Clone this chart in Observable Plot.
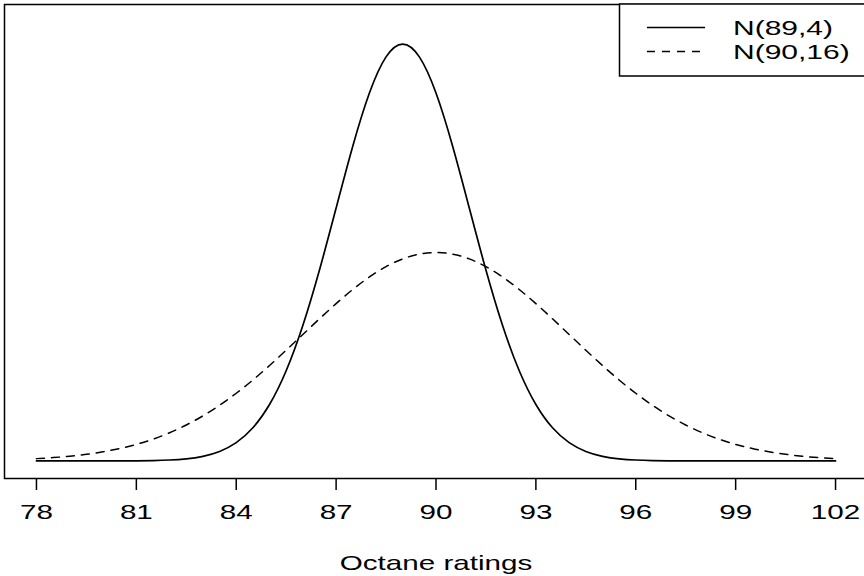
<!DOCTYPE html>
<html>
<head>
<meta charset="utf-8">
<script src="https://cdn.jsdelivr.net/npm/d3@7"></script>
<script src="https://cdn.jsdelivr.net/npm/@observablehq/plot@0.6"></script>
<style>
  html, body { margin: 0; padding: 0; background: #fff; overflow: hidden; }
  #wrap { position: relative; width: 864px; height: 576px; overflow: hidden; }
  #legend { position: absolute; left: 0; top: 0; pointer-events: none; }
</style>
</head>
<body>
<div id="wrap"></div>
<script>
// Octane rating grid (x) and density values read for the two curves
const octane = [78,78.5,79,79.5,80,80.5,81,81.5,82,82.5,83,83.5,84,84.5,85,85.5,86,86.5,87,87.5,88,88.5,89,
  89.5,90,90.5,91,91.5,92,92.5,93,93.5,94,94.5,95,95.5,96,96.5,97,97.5,98,98.5,99,99.5,100,100.5,101,101.5,102];
const densityN89 = [0.00000,0.00000,0.00000,0.00000,0.00001,0.00002,0.00007,0.00018,0.00044,0.00102,0.00222,0.00455,0.00876,0.01587,0.02700,0.04314,0.06476,0.09133,0.12099,0.15057,0.17603,0.19333,0.19947,
  0.19333,0.17603,0.15057,0.12099,0.09133,0.06476,0.04314,0.02700,0.01587,0.00876,0.00455,0.00222,0.00102,0.00044,0.00018,0.00007,0.00002,0.00001,0.00000,0.00000,0.00000,0.00000,0.00000,0.00000,0.00000,0.00000];
const densityN90 = [0.00111,0.00160,0.00227,0.00318,0.00438,0.00594,0.00794,0.01043,0.01350,0.01720,0.02157,0.02663,0.03238,0.03875,0.04566,0.05297,0.06049,0.06801,0.07528,0.08204,0.08802,0.09297,0.09667,
  0.09896,0.09974,0.09896,0.09667,0.09297,0.08802,0.08204,0.07528,0.06801,0.06049,0.05297,0.04566,0.03875,0.03238,0.02663,0.02157,0.01720,0.01350,0.01043,0.00794,0.00594,0.00438,0.00318,0.00227,0.00160,0.00111];
const xTicks = [78, 81, 84, 87, 90, 93, 96, 99, 102];
const seriesNames = ["N(89,4)", "N(90,16)"];
const xLabel = "Octane ratings";

const solid = octane.map((x, i) => ({x, y: densityN89[i]}));
const dashed = octane.map((x, i) => ({x, y: densityN90[i]}));

const FONT = "'Liberation Sans', Arial, Helvetica, sans-serif";

const chart = Plot.plot({
  width: 864,
  height: 576,
  marginLeft: 4,
  marginRight: -3,
  marginTop: 4,
  marginBottom: 98,
  style: {fontFamily: FONT, fontSize: "20px", background: "white", color: "black", overflow: "visible"},
  x: {domain: [77.04, 102.96]},
  y: {domain: [-0.0084, 0.2184], axis: null},
  marks: [
    Plot.line(dashed, {x: "x", y: "y", curve: "natural", stroke: "black", strokeWidth: 1.5, strokeDasharray: "8,7"}),
    Plot.line(solid, {x: "x", y: "y", curve: "natural", stroke: "black", strokeWidth: 1.7}),
    Plot.frame({stroke: "black", strokeWidth: 1.5}),
    Plot.axisX({
      ticks: xTicks,
      tickSize: 12,
      tickPadding: 14,
      tickFormat: d => String(d),
      fontSize: 20,
      strokeWidth: 1.5,
      label: xLabel,
      labelAnchor: "center",
      labelOffset: 91,
      labelArrow: "none"
    })
  ]
});

document.getElementById("wrap").appendChild(chart);

// Stretch text horizontally to match the reference's wide glyphs
chart.querySelectorAll("text").forEach(t => {
  const tr = t.getAttribute("transform") || "";
  t.setAttribute("transform", tr + " scale(1.48,1.03)");
});

// Legend box (top right)
const ns = "http://www.w3.org/2000/svg";
const leg = document.createElementNS(ns, "svg");
leg.setAttribute("id", "legend");
leg.setAttribute("width", 864);
leg.setAttribute("height", 90);
const rect = document.createElementNS(ns, "rect");
rect.setAttribute("x", 619.5); rect.setAttribute("y", 4);
rect.setAttribute("width", 260); rect.setAttribute("height", 72);
rect.setAttribute("fill", "white"); rect.setAttribute("stroke", "black"); rect.setAttribute("stroke-width", 1.5);
leg.appendChild(rect);
const rows = [{y: 27.5, dash: null}, {y: 51.5, dash: "8,7"}];
rows.forEach((r, i) => {
  const ln = document.createElementNS(ns, "line");
  ln.setAttribute("x1", 647); ln.setAttribute("x2", 705);
  ln.setAttribute("y1", r.y); ln.setAttribute("y2", r.y);
  ln.setAttribute("stroke", "black"); ln.setAttribute("stroke-width", 1.5);
  if (r.dash) ln.setAttribute("stroke-dasharray", r.dash);
  leg.appendChild(ln);
  const tx = document.createElementNS(ns, "text");
  tx.textContent = seriesNames[i];
  tx.setAttribute("transform", `translate(733,${r.y + 7.5}) scale(1.5,1.03)`);
  tx.setAttribute("font-family", FONT);
  tx.setAttribute("font-size", 20);
  tx.setAttribute("fill", "black");
  leg.appendChild(tx);
});
document.getElementById("wrap").appendChild(leg);
</script>
</body>
</html>
